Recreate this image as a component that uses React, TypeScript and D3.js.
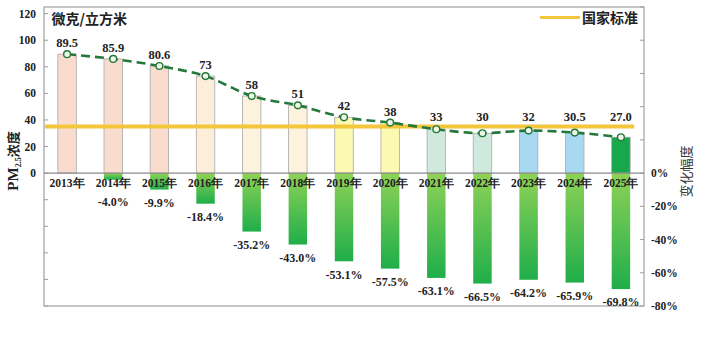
import React from "react";
import * as d3 from "d3";

const years = ["2013","2014","2015","2016","2017","2018","2019","2020","2021","2022","2023","2024","2025"];
const pm25 = [89.5, 85.9, 80.6, 73, 58, 51, 42, 38, 33, 30, 32, 30.5, 27.0];
const pmLabels = ["89.5","85.9","80.6","73","58","51","42","38","33","30","32","30.5","27.0"];
const change = [null, -4.0, -9.9, -18.4, -35.2, -43.0, -53.1, -57.5, -63.1, -66.5, -64.2, -65.9, -69.8];
const barColors = ["#fadccf","#fadccf","#fadccf","#fdeedb","#fdf2dd","#fdf2dd","#fbf9b2","#fbf9b2","#cfe9dc","#cfe9dc","#a8d9f2","#a8d9f2","#16a84b"];
const standard = 35;
const leftTicks = [-100,-80,-60,-40,-20,0,20,40,60,80,100,120];
const rightTicks = [-80,-60,-40,-20,0,20,40,60,80,100];

const W = 707, H = 337;
const L = 44, R = 644, T = 7, B = 306;
const serif = "'Liberation Serif', 'Times New Roman', serif";
const cjk = "'Noto Sans CJK SC', sans-serif";

export default function App() {
  const x = d3.scaleBand<string>().domain(years).range([L, R]).paddingInner(0.6).paddingOuter(0.3);
  const yL = d3.scaleLinear().domain([-100, 125]).range([B, T]);
  const yR = d3.scaleLinear().domain([-80, 100]).range([B, T]);
  const bw = x.bandwidth();
  const cx = (y: string) => (x(y) as number) + bw / 2;

  const pts: [number, number][] = years.map((y, i) => [cx(y), yL(pm25[i])]);
  const line = d3.line().curve(d3.curveMonotoneX)(pts) || "";
  const stdY = yL(standard);
  const stdEnd = (x(years[years.length - 1]) as number) + bw + 4;
  const labelCap = stdY - 6;

  return (
    <svg width={W} height={H} style={{ position: "absolute", left: 0, top: 0, background: "#fff" }}>
      <defs>
        <linearGradient id="gchg" x1="0" y1="0" x2="0" y2="1">
          <stop offset="0%" stopColor="#8fd257" />
          <stop offset="100%" stopColor="#1fae4a" />
        </linearGradient>
      </defs>
      {years.map((y, i) => (
        <rect key={"b" + y} x={x(y)} y={yL(pm25[i])} width={bw} height={yL(0) - yL(pm25[i])}
          fill={barColors[i]} stroke="#a8a8a8" strokeWidth={0.8} />
      ))}
      {years.map((y, i) => change[i] == null ? null : (
        <rect key={"c" + y} x={x(y)} y={yR(0)} width={bw} height={yR(change[i] as number) - yR(0)}
          fill="url(#gchg)" />
      ))}
      <rect x={L} y={T} width={R - L} height={B - T} fill="none" stroke="#a0a0a0" strokeWidth={1.2} />
      <line x1={L} x2={R} y1={yL(0)} y2={yL(0)} stroke="#8a8a8a" strokeWidth={1.2} />
      {leftTicks.map(t => (
        <g key={"lt" + t}>
          <line x1={L} x2={L + 4} y1={yL(t)} y2={yL(t)} stroke="#9c9c9c" strokeWidth={1} />
          {t >= 0 && (
            <text x={36} y={yL(t)} dy="0.35em" textAnchor="end" fontFamily={serif} fontWeight="bold" fontSize={11.5} fill="#222">{t}</text>
          )}
        </g>
      ))}
      {rightTicks.map(t => (
        <g key={"rt" + t}>
          <line x1={R - 4} x2={R} y1={yR(t)} y2={yR(t)} stroke="#9c9c9c" strokeWidth={1} />
          {t <= 0 && (
            <text x={651} y={yR(t)} dy="0.35em" textAnchor="start" fontFamily={serif} fontWeight="bold" fontSize={11.5} fill="#222">{t + "%"}</text>
          )}
        </g>
      ))}
      <line x1={L + 1} x2={stdEnd} y1={stdY} y2={stdY} stroke="#f4c63c" strokeWidth={4} />
      <path d={line} fill="none" stroke="#24793a" strokeWidth={2.6} strokeDasharray="9,5" />
      {pts.map((p, i) => (
        <circle key={"m" + i} cx={p[0]} cy={p[1]} r={3.4} fill="#eef7e8" stroke="#24793a" strokeWidth={1.4} />
      ))}
      {years.map((y, i) => (
        <text key={"vl" + y} x={cx(y)} y={Math.min(yL(pm25[i]) - 7, labelCap)} textAnchor="middle" fontFamily={serif} fontWeight="bold" fontSize={12.5} fill="#222">{pmLabels[i]}</text>
      ))}
      {years.map(y => (
        <text key={"yl" + y} x={cx(y)} y={yL(0) + 9.5} dy="0.35em" textAnchor="middle" fontFamily={serif} fontWeight="bold" fontSize={11.5} fill="#222">{y + "年"}</text>
      ))}
      {years.map((y, i) => change[i] == null ? null : (
        <text key={"cl" + y} x={cx(y)} y={Math.max(yR(change[i] as number) + 13, 202)} dy="0.35em" textAnchor="middle" fontFamily={serif} fontWeight="bold" fontSize={12} fill="#222">{(change[i] as number).toFixed(1) + "%"}</text>
      ))}
      <text x={51.5} y={24} fontFamily={cjk} fontWeight="bold" fontSize={14} fill="#222">微克/立方米</text>
      <line x1={540} x2={580} y1={17.5} y2={17.5} stroke="#f4c63c" strokeWidth={3} />
      <text x={582} y={22.5} fontFamily={cjk} fontWeight="bold" fontSize={14} fill="#222">国家标准</text>
      <g transform="translate(18,161) rotate(-90)">
        <text textAnchor="middle" fill="#222" fontWeight="bold">
          <tspan fontFamily={serif} fontSize={15}>PM</tspan>
          <tspan fontFamily={serif} fontSize={8} dy={3}>2.5</tspan>
          <tspan fontFamily={cjk} fontSize={13} dy={-3}>浓度</tspan>
        </text>
      </g>
      <g transform="translate(691,171.5) rotate(-90)">
        <text textAnchor="middle" fontFamily={cjk} fontSize={13} fill="#333">变化幅度</text>
      </g>
    </svg>
  );
}
